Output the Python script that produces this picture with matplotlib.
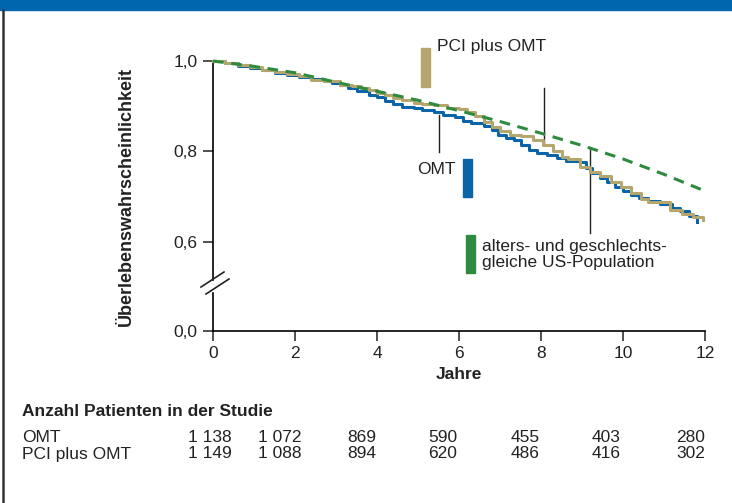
import matplotlib
matplotlib.use("Agg")
import matplotlib.pyplot as plt
from matplotlib.patches import Rectangle
from matplotlib.lines import Line2D
import matplotlib.transforms as mtransforms

plt.rcParams['font.family'] = ['Liberation Sans Narrow', 'Liberation Sans', 'DejaVu Sans']

# Kaplan-Meier curves (years, survival probability)
omt_t = [0, 0.3, 0.6, 0.9, 1.2, 1.5, 1.8, 2.1, 2.4, 2.7, 2.9, 3.1, 3.3, 3.5, 3.8, 4.0, 4.2,
         4.4, 4.6, 4.9, 5.1, 5.4, 5.6, 5.9, 6.1, 6.3, 6.6, 6.8, 6.95, 7.15, 7.35, 7.5, 7.7,
         7.9, 8.15, 8.4, 8.6, 8.95, 9.1, 9.25, 9.45, 9.6, 9.8, 10.0, 10.2, 10.4, 10.6, 10.9,
         11.2, 11.4, 11.6, 11.8]
omt_s = [1.0, 0.995, 0.99, 0.985, 0.979, 0.974, 0.969, 0.965, 0.96, 0.955, 0.952, 0.946,
         0.94, 0.934, 0.925, 0.92, 0.912, 0.904, 0.898, 0.895, 0.891, 0.886, 0.881, 0.876,
         0.868, 0.862, 0.857, 0.848, 0.836, 0.83, 0.824, 0.815, 0.803, 0.797, 0.792, 0.785,
         0.778, 0.776, 0.764, 0.752, 0.74, 0.732, 0.722, 0.713, 0.703, 0.697, 0.689, 0.684,
         0.674, 0.668, 0.656, 0.643]

pci_t = [0, 0.3, 0.6, 0.9, 1.2, 1.5, 1.8, 2.1, 2.4, 2.7, 2.9, 3.1, 3.4, 3.6, 3.8, 4.0, 4.2,
         4.4, 4.6, 4.9, 5.1, 5.4, 5.7, 6.0, 6.2, 6.4, 6.6, 6.8, 7.0, 7.25, 7.5, 7.8, 8.05,
         8.3, 8.5, 8.65, 8.95, 9.2, 9.45, 9.7, 9.95, 10.2, 10.45, 10.6, 11.0, 11.15, 11.45,
         11.7, 11.95]
pci_s = [1.0, 0.995, 0.991, 0.986, 0.981, 0.976, 0.972, 0.967, 0.958, 0.956, 0.955, 0.946,
         0.945, 0.94, 0.936, 0.93, 0.924, 0.918, 0.914, 0.907, 0.905, 0.902, 0.897, 0.893,
         0.887, 0.878, 0.866, 0.854, 0.846, 0.836, 0.833, 0.826, 0.814, 0.8, 0.787, 0.783,
         0.765, 0.754, 0.745, 0.733, 0.72, 0.707, 0.695, 0.687, 0.687, 0.67, 0.662, 0.655,
         0.647]

pop_t = [0, 1, 2, 3, 4, 5, 6, 7, 8, 9, 10, 11, 12]
pop_s = [1.0, 0.988, 0.974, 0.953, 0.933, 0.913, 0.89, 0.866, 0.84, 0.813, 0.783, 0.749, 0.712]

x_ticks = [0, 2, 4, 6, 8, 10, 12]
row_names = ["OMT", "PCI plus OMT"]
n_omt = ["1 138", "1 072", "869", "590", "455", "403", "280"]
n_pci = ["1 149", "1 088", "894", "620", "486", "416", "302"]

c_blue = "#0a64a8"
c_tan = "#b5a66e"
c_green = "#2e8b3e"
c_header = "#0066ad"
c_text = "#222222"

W, H = 732, 503
fig = plt.figure(figsize=(W / 100, H / 100), dpi=100)


def fx(px):
    return px / W


def fy(py):
    return 1 - py / H


# frame: header bar and left border
fig.patches.append(Rectangle((0, fy(10)), 1, 10 / H, transform=fig.transFigure,
                             color=c_header, zorder=0))
fig.lines.append(Line2D([fx(3), fx(3)], [0, fy(10)], transform=fig.transFigure,
                        color="#333333", lw=1.8))

y0 = 1 - 270 / 451.5  # position standing for 0,0 below the break
ax = fig.add_axes([fx(213), fy(331), fx(705) - fx(213), fy(61) - fy(331)])
ax.set_xlim(0, 12)
ax.set_ylim(y0, 1.0)
for s in ["top", "right"]:
    ax.spines[s].set_visible(False)
ax.spines["left"].set_linewidth(1.2)
ax.spines["bottom"].set_linewidth(1.2)
ax.set_xticks(x_ticks)
ax.set_xticklabels([str(v) for v in x_ticks])
ax.set_yticks([y0, 0.6, 0.8, 1.0])
ax.set_yticklabels(["0,0", "0,6", "0,8", "1,0"])
ax.tick_params(length=7, width=1.1, labelsize=12.5, color=c_text, labelcolor=c_text, pad=4)
ax.set_xlabel("Jahre", fontsize=12.5, fontweight="bold", labelpad=4, color=c_text)
ax.set_ylabel("Überlebenswahrscheinlichkeit", fontsize=13, fontweight="bold",
              labelpad=28, color=c_text)

ax.plot(omt_t, omt_s, drawstyle="steps-post", color=c_blue, lw=2.2, clip_on=False, zorder=3)
ax.plot(pci_t, pci_s, drawstyle="steps-post", color=c_tan, lw=2.2, clip_on=False, zorder=4)
ax.plot(pop_t, pop_s, color=c_green, lw=2.2, ls=(0, (3.5, 2.5)), clip_on=False, zorder=5)

# break marks on the y axis
fig.patches.append(Rectangle((fx(210), fy(291)), 6 / W, 10 / H, transform=fig.transFigure,
                             color="white", zorder=5))
for (xa, ya, xb, yb) in [(201, 287, 224, 272), (206, 294, 229, 279)]:
    fig.lines.append(Line2D([fx(xa), fx(xb)], [fy(ya), fy(yb)], transform=fig.transFigure,
                            color=c_text, lw=1.2, zorder=6))

# leader lines and labels
ax.plot([8.07, 8.07], [0.94, 0.814], color=c_text, lw=1.0, clip_on=False)
ax.plot([5.51, 5.51], [0.880, 0.798], color=c_text, lw=1.0, clip_on=False)
ax.plot([9.2, 9.2], [0.807, 0.619], color=c_text, lw=1.0, clip_on=False)

ax.add_patch(Rectangle((5.07, 0.942), 0.22, 0.087, color=c_tan, clip_on=False))
ax.add_patch(Rectangle((6.10, 0.699), 0.22, 0.084, color=c_blue, clip_on=False))
ax.add_patch(Rectangle((6.17, 0.530), 0.22, 0.085, color=c_green, clip_on=False))

ax.text(5.46, 1.033, "PCI plus OMT", fontsize=12.5, ha="left", va="center", color=c_text)
ax.text(5.44, 0.759, "OMT", fontsize=12.5, ha="center", va="center", color=c_text)
ax.text(6.56, 0.572, "alters- und geschlechts-\ngleiche US-Population", fontsize=12.5,
        ha="left", va="center", linespacing=1.05, color=c_text)

# patient numbers table
fig.text(fx(22), fy(411), "Anzahl Patienten in der Studie", fontsize=12.5, fontweight="bold",
         ha="left", va="center", color=c_text)
tr = mtransforms.blended_transform_factory(ax.transData, fig.transFigure)
col_x = [0.46, 2.15, 3.98, 5.95, 7.97, 9.95, 12.0]
for name, vals, py in [(row_names[0], n_omt, 438), (row_names[1], n_pci, 454)]:
    fig.text(fx(22), fy(py), name, fontsize=12.5, ha="left", va="center", color=c_text)
    for xv, v in zip(col_x, vals):
        ax.text(xv, fy(py), v, transform=tr, fontsize=12.5, ha="right", va="center",
                color=c_text, clip_on=False)

fig.savefig("out.png", dpi=100)
